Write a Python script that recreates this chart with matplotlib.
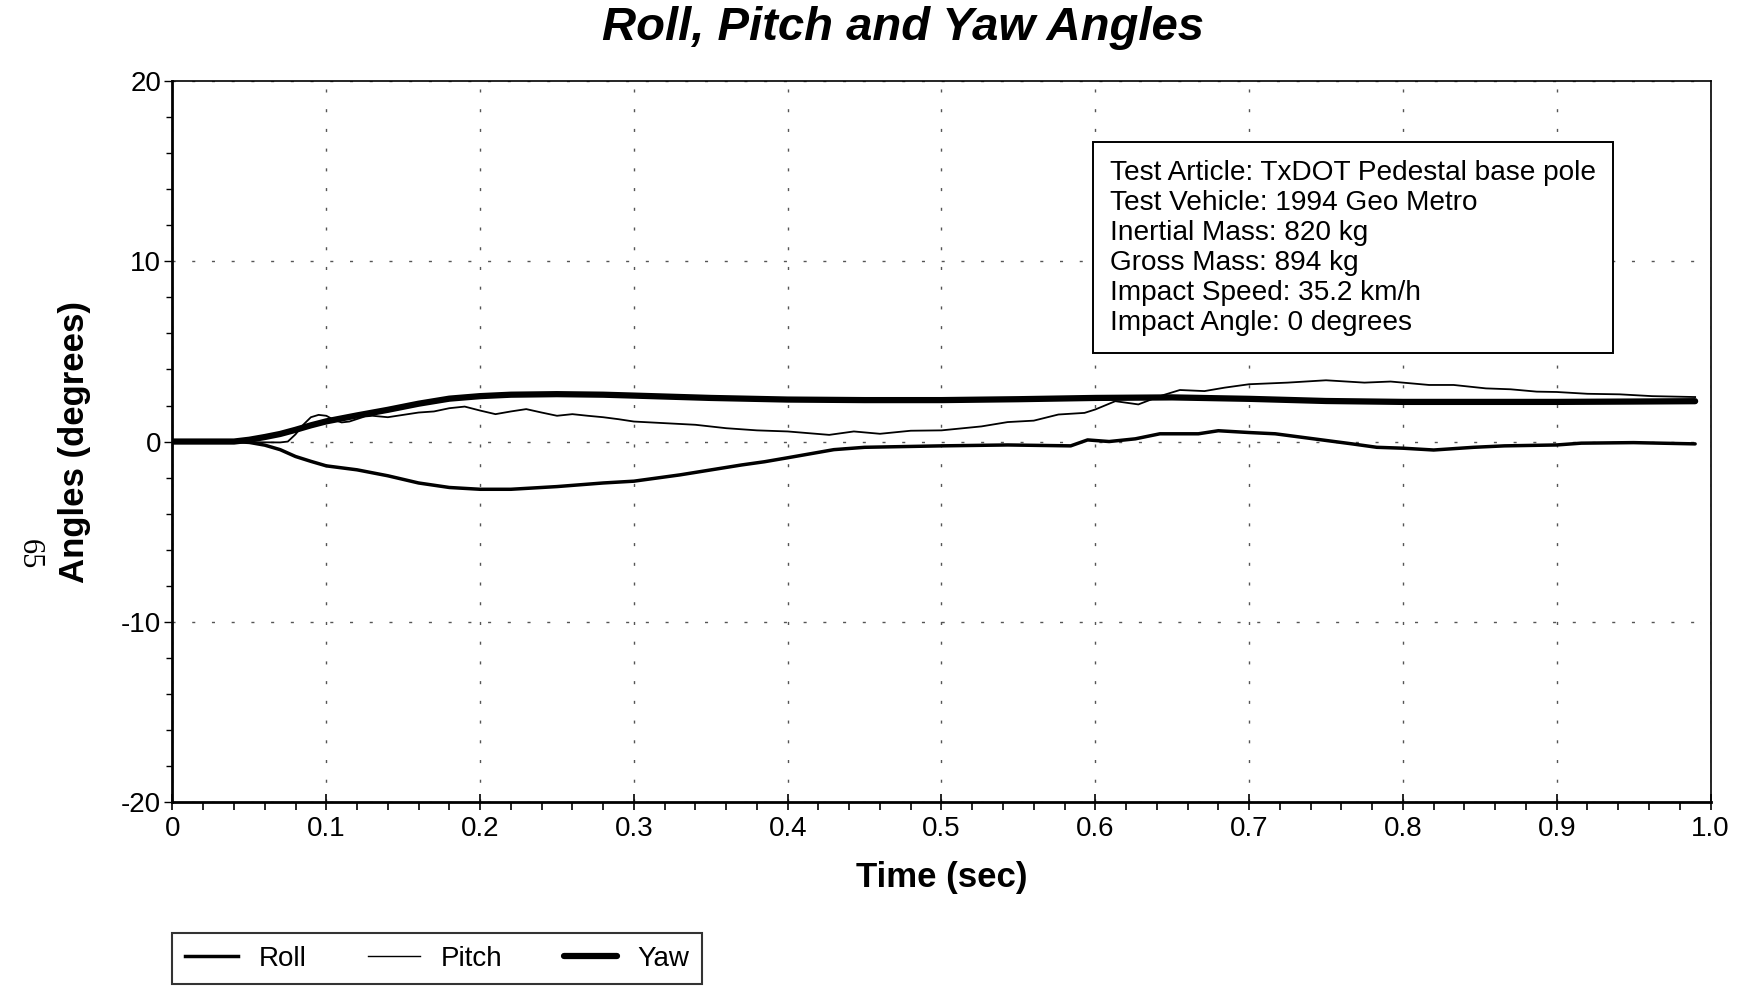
import matplotlib
matplotlib.use("Agg")
import matplotlib.pyplot as plt
from matplotlib.ticker import MultipleLocator
from matplotlib.lines import Line2D

plt.rcParams['font.family'] = ['Liberation Sans', 'DejaVu Sans']
plt.rcParams['axes.unicode_minus'] = False

# roll angle (deg) vs time (sec)
roll_t = [0, 0.04, 0.05, 0.06, 0.07, 0.08, 0.09, 0.1, 0.12, 0.14, 0.16, 0.18, 0.2, 0.22,
          0.25, 0.28, 0.3, 0.33, 0.37, 0.385, 0.4, 0.43, 0.45, 0.5, 0.543, 0.584, 0.595,
          0.609, 0.626, 0.642, 0.667, 0.68, 0.7, 0.717, 0.742, 0.767, 0.783, 0.8, 0.82,
          0.846, 0.866, 0.9, 0.916, 0.95, 0.99]
roll_deg = [0, 0, -0.05, -0.2, -0.45, -0.83, -1.1, -1.35, -1.57, -1.9, -2.3, -2.55, -2.65, -2.65,
            -2.5, -2.3, -2.2, -1.85, -1.3, -1.12, -0.9, -0.45, -0.32, -0.24, -0.19, -0.24, 0.09,
            0.0, 0.15, 0.43, 0.43, 0.6, 0.5, 0.43, 0.15, -0.13, -0.32, -0.37, -0.47,
            -0.32, -0.24, -0.19, -0.09, -0.06, -0.13]

# pitch angle
pitch_t = [0, 0.07, 0.075, 0.08, 0.085, 0.09, 0.095, 0.1, 0.105, 0.11, 0.115, 0.125, 0.13,
           0.14, 0.15, 0.16, 0.17, 0.18, 0.19, 0.2, 0.21, 0.22, 0.23, 0.24, 0.25, 0.26, 0.27,
           0.28, 0.29, 0.3, 0.32, 0.34, 0.36, 0.38, 0.4, 0.427, 0.443, 0.46, 0.48, 0.5, 0.526,
           0.543, 0.56, 0.576, 0.593, 0.6, 0.613, 0.628, 0.642, 0.655, 0.671, 0.684, 0.7,
           0.725, 0.75, 0.775, 0.792, 0.8, 0.817, 0.833, 0.854, 0.87, 0.887, 0.9, 0.92,
           0.941, 0.962, 0.99]
pitch_deg = [0, -0.05, 0.0, 0.4, 0.93, 1.35, 1.48, 1.43, 1.2, 1.06, 1.11, 1.39, 1.43,
             1.35, 1.48, 1.61, 1.67, 1.85, 1.94, 1.72, 1.52, 1.67, 1.8, 1.61, 1.43, 1.52, 1.43,
             1.35, 1.24, 1.11, 1.02, 0.93, 0.74, 0.62, 0.56, 0.37, 0.56, 0.43, 0.6, 0.62, 0.84,
             1.08, 1.16, 1.5, 1.59, 1.78, 2.24, 2.06, 2.52, 2.86, 2.8, 2.99, 3.18,
             3.27, 3.4, 3.27, 3.33, 3.27, 3.14, 3.14, 2.95, 2.9, 2.77, 2.75, 2.65,
             2.62, 2.52, 2.47]

# yaw angle
yaw_t = [0, 0.04, 0.05, 0.06, 0.07, 0.08, 0.09, 0.1, 0.12, 0.14, 0.16, 0.18, 0.2, 0.22,
         0.25, 0.28, 0.3, 0.35, 0.4, 0.45, 0.5, 0.55, 0.6, 0.65, 0.7, 0.75, 0.8, 0.85,
         0.9, 0.95, 0.99]
yaw_deg = [0, 0, 0.1, 0.25, 0.42, 0.65, 0.9, 1.12, 1.45, 1.76, 2.1, 2.38, 2.52, 2.6,
           2.63, 2.6, 2.55, 2.42, 2.33, 2.3, 2.3, 2.35, 2.42, 2.45, 2.37, 2.25, 2.2, 2.2,
           2.2, 2.22, 2.24]

info_lines = ["Test Article: TxDOT Pedestal base pole",
              "Test Vehicle: 1994 Geo Metro",
              "Inertial Mass: 820 kg",
              "Gross Mass: 894 kg",
              "Impact Speed: 35.2 km/h",
              "Impact Angle: 0 degrees"]

fig = plt.figure(figsize=(17.44, 9.89), dpi=100)
ax = fig.add_axes([0.0989, 0.1892, 0.8819, 0.7287])

ax.plot(roll_t, roll_deg, color='black', lw=2.5, solid_capstyle='round', zorder=3)
ax.plot(pitch_t, pitch_deg, color='black', lw=1.3, zorder=4)
ax.plot(yaw_t, yaw_deg, color='black', lw=4.5, solid_capstyle='round', zorder=3)

ax.set_xlim(0, 1.0)
ax.set_ylim(-20, 20)
ax.xaxis.set_major_locator(MultipleLocator(0.1))
ax.xaxis.set_minor_locator(MultipleLocator(0.02))
ax.yaxis.set_major_locator(MultipleLocator(10))
ax.yaxis.set_minor_locator(MultipleLocator(2))
ax.xaxis.set_major_formatter(plt.FuncFormatter(lambda v, p: '0' if abs(v) < 1e-9 else '%.1f' % v))
ax.yaxis.set_major_formatter(plt.FuncFormatter(lambda v, p: '%d' % round(v)))

ax.tick_params(axis='x', which='major', direction='inout', length=12, width=1.2, labelsize=20, pad=4)
ax.tick_params(axis='x', which='minor', direction='out', length=6, width=1.2)
ax.tick_params(axis='y', which='major', direction='out', length=6, width=1.0, labelsize=20, pad=2)
ax.tick_params(axis='y', which='minor', direction='out', length=4, width=1.0)

ax.grid(True, which='major', color='#555555', lw=1.0, linestyle=(0, (2.2, 12)))
for side in ['left', 'bottom']:
    ax.spines[side].set_linewidth(2.0)
for side in ['top', 'right']:
    ax.spines[side].set_linewidth(1.2)

ax.set_xlabel('Time (sec)', fontsize=25, fontweight='bold', labelpad=14)
ax.set_ylabel('Angles (degrees)', fontsize=25, fontweight='bold', labelpad=22)
fig.suptitle('Roll, Pitch and Yaw Angles', fontsize=34, fontweight='bold', style='italic',
             x=0.518, y=0.994, va='top')

ax.text(0.6095, 0.891, "\n".join(info_lines), transform=ax.transAxes, fontsize=20.2,
        va='top', ha='left', linespacing=1.2,
        bbox=dict(boxstyle='square,pad=0.62', facecolor='white', edgecolor='black', lw=1.4),
        zorder=6)

fig.text(0.0165, 0.44, '65', rotation=-90, fontsize=22, family='Liberation Serif',
         ha='center', va='center')

handles = [Line2D([], [], color='black', lw=2.5),
           Line2D([], [], color='black', lw=1.0),
           Line2D([], [], color='black', lw=4.5, solid_capstyle='round')]
leg = fig.legend(handles, ['Roll', 'Pitch', 'Yaw'], loc='lower left',
                 bbox_to_anchor=(0.0989, 0.005), borderaxespad=0, ncol=3, fontsize=20,
                 frameon=True, fancybox=False, edgecolor='black', handlelength=1.9,
                 columnspacing=2.2, handletextpad=0.75, borderpad=0.45)
leg.get_frame().set_linewidth(1.5)

fig.savefig('out.png', dpi=100)
